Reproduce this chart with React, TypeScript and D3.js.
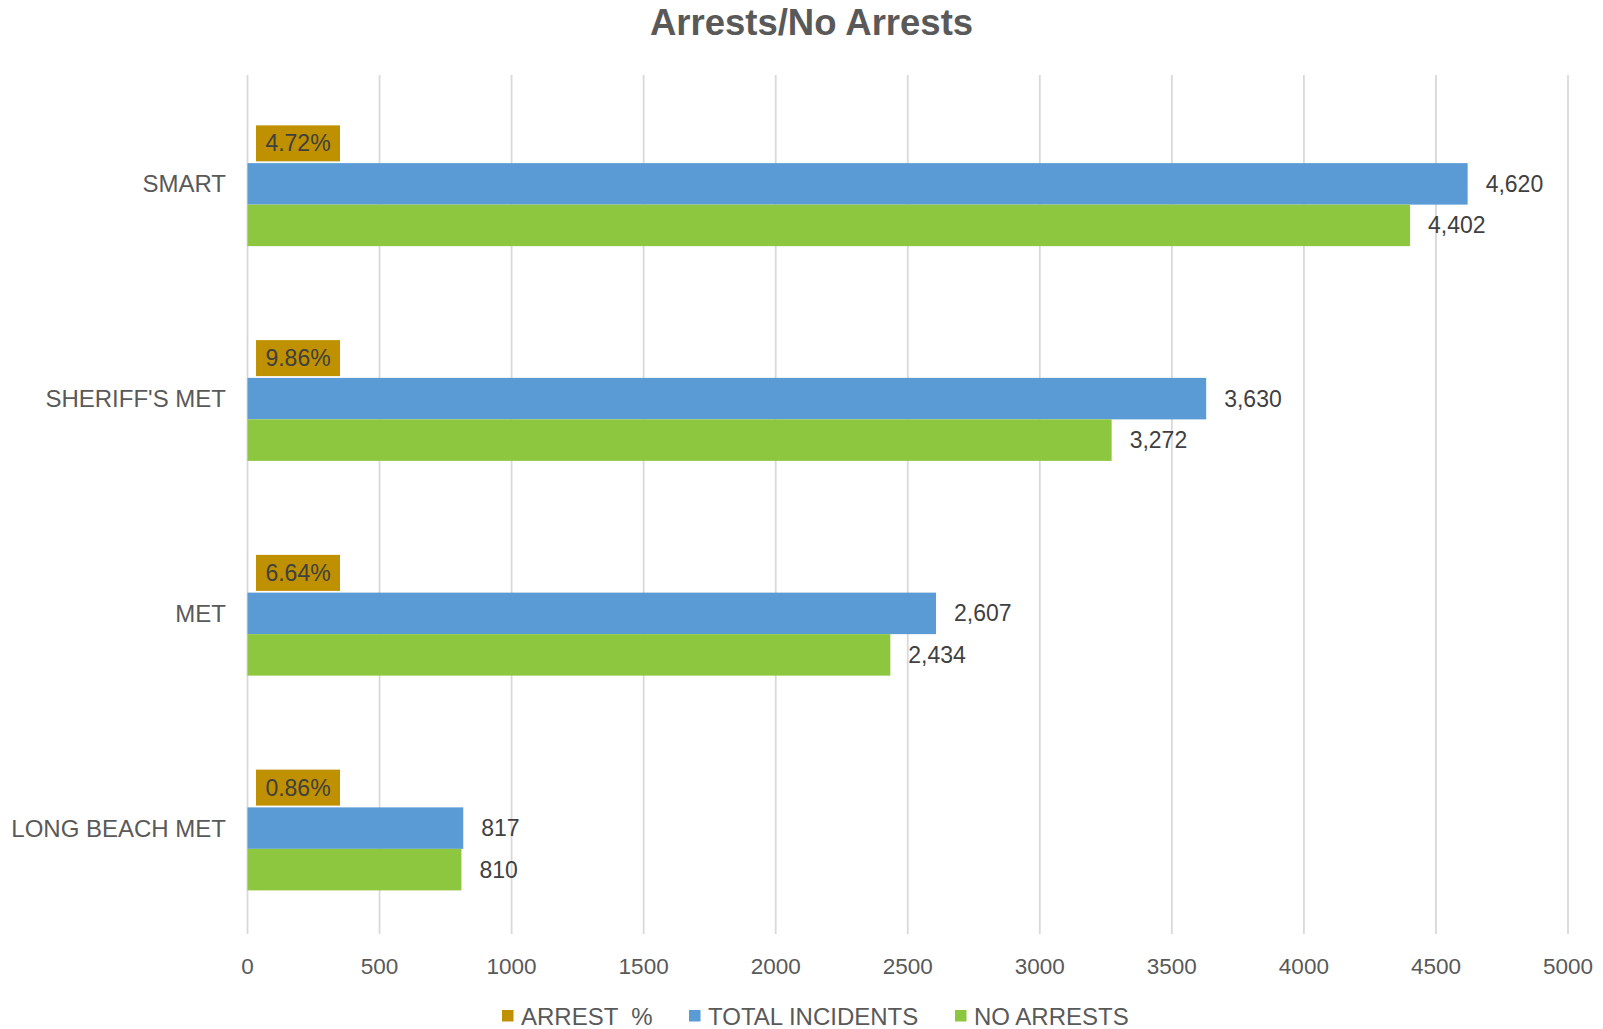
import React, { useEffect } from "react";
import * as d3 from "d3";

const categories = ["SMART", "SHERIFF'S MET", "MET", "LONG BEACH MET"];
const arrestPct = [0.0472, 0.0986, 0.0664, 0.0086];
const totalIncidents = [4620, 3630, 2607, 817];
const noArrests = [4402, 3272, 2434, 810];
const xTicks = [0, 500, 1000, 1500, 2000, 2500, 3000, 3500, 4000, 4500, 5000];
const seriesNames = ["ARREST  %", "TOTAL INCIDENTS", "NO ARRESTS"];
const seriesColors = ["#BF9000", "#5B9BD5", "#8DC63F"];

const W = 1603;
const H = 1029;
const FONT = "'Liberation Sans', Arial, sans-serif";

export default function App() {
  useEffect(() => {
    document.body.style.margin = "0";
  }, []);

  const x = d3.scaleLinear().domain([0, 5000]).range([247.5, 1568]);
  const y = d3.scaleBand<string>().domain(categories).range([75, 934]).paddingInner(0).paddingOuter(0);
  const bh = 41.5;
  const fmt = d3.format(",");
  const pctFmt = d3.format(".2%");

  const legendX = [502, 689, 955];

  return (
    <svg width={W} height={H} style={{ position: "absolute", left: 0, top: 0, background: "#fff" }} fontFamily={FONT}>
      <rect x={0} y={0} width={W} height={H} fill="#fff" />
      <text x={811.5} y={35} textAnchor="middle" fontSize={36.5} fontWeight="bold" fill="#595959">
        Arrests/No Arrests
      </text>
      {xTicks.map((t) => (
        <g key={t}>
          <line x1={x(t)} x2={x(t)} y1={y.range()[0]} y2={y.range()[1]} stroke="#D9D9D9" strokeWidth={1.8} />
          <text x={x(t)} y={974} textAnchor="middle" fontSize={22.5} fill="#595959">
            {t}
          </text>
        </g>
      ))}
      {categories.map((c, i) => {
        const cy = (y(c) as number) + y.bandwidth() / 2 + 1.5;
        const yA = cy - 1.5 * bh;
        const yT = cy - 0.5 * bh;
        const yN = cy + 0.5 * bh;
        return (
          <g key={c}>
            <text x={226} y={cy} dy="0.35em" textAnchor="end" fontSize={24} fill="#595959">
              {c}
            </text>
            <rect x={x(0)} y={yA} width={Math.max(0, x(arrestPct[i]) - x(0))} height={bh} fill={seriesColors[0]} />
            <rect x={x(0)} y={yT} width={x(totalIncidents[i]) - x(0)} height={bh} fill={seriesColors[1]} />
            <rect x={x(0)} y={yN} width={x(noArrests[i]) - x(0)} height={bh} fill={seriesColors[2]} />
            <rect x={x(arrestPct[i]) + 8.5} y={yA + bh / 2 + 1 - 18} width={84} height={36} fill={seriesColors[0]} />
            <text x={x(arrestPct[i]) + 8.5 + 42} y={yA + bh / 2 + 1} dy="0.35em" textAnchor="middle" fontSize={23} fill="#404040">
              {pctFmt(arrestPct[i])}
            </text>
            <text x={x(totalIncidents[i]) + 18} y={yT + bh / 2} dy="0.35em" fontSize={23} fill="#404040">
              {fmt(totalIncidents[i])}
            </text>
            <text x={x(noArrests[i]) + 18} y={yN + bh / 2} dy="0.35em" fontSize={23} fill="#404040">
              {fmt(noArrests[i])}
            </text>
          </g>
        );
      })}
      {seriesNames.map((s, i) => (
        <g key={s}>
          <rect x={legendX[i]} y={1010} width={11.5} height={11.5} fill={seriesColors[i]} />
          <text x={legendX[i] + 19} y={1017} dy="0.35em" fontSize={24} fill="#595959" style={{ whiteSpace: "pre" }}>
            {s}
          </text>
        </g>
      ))}
    </svg>
  );
}
